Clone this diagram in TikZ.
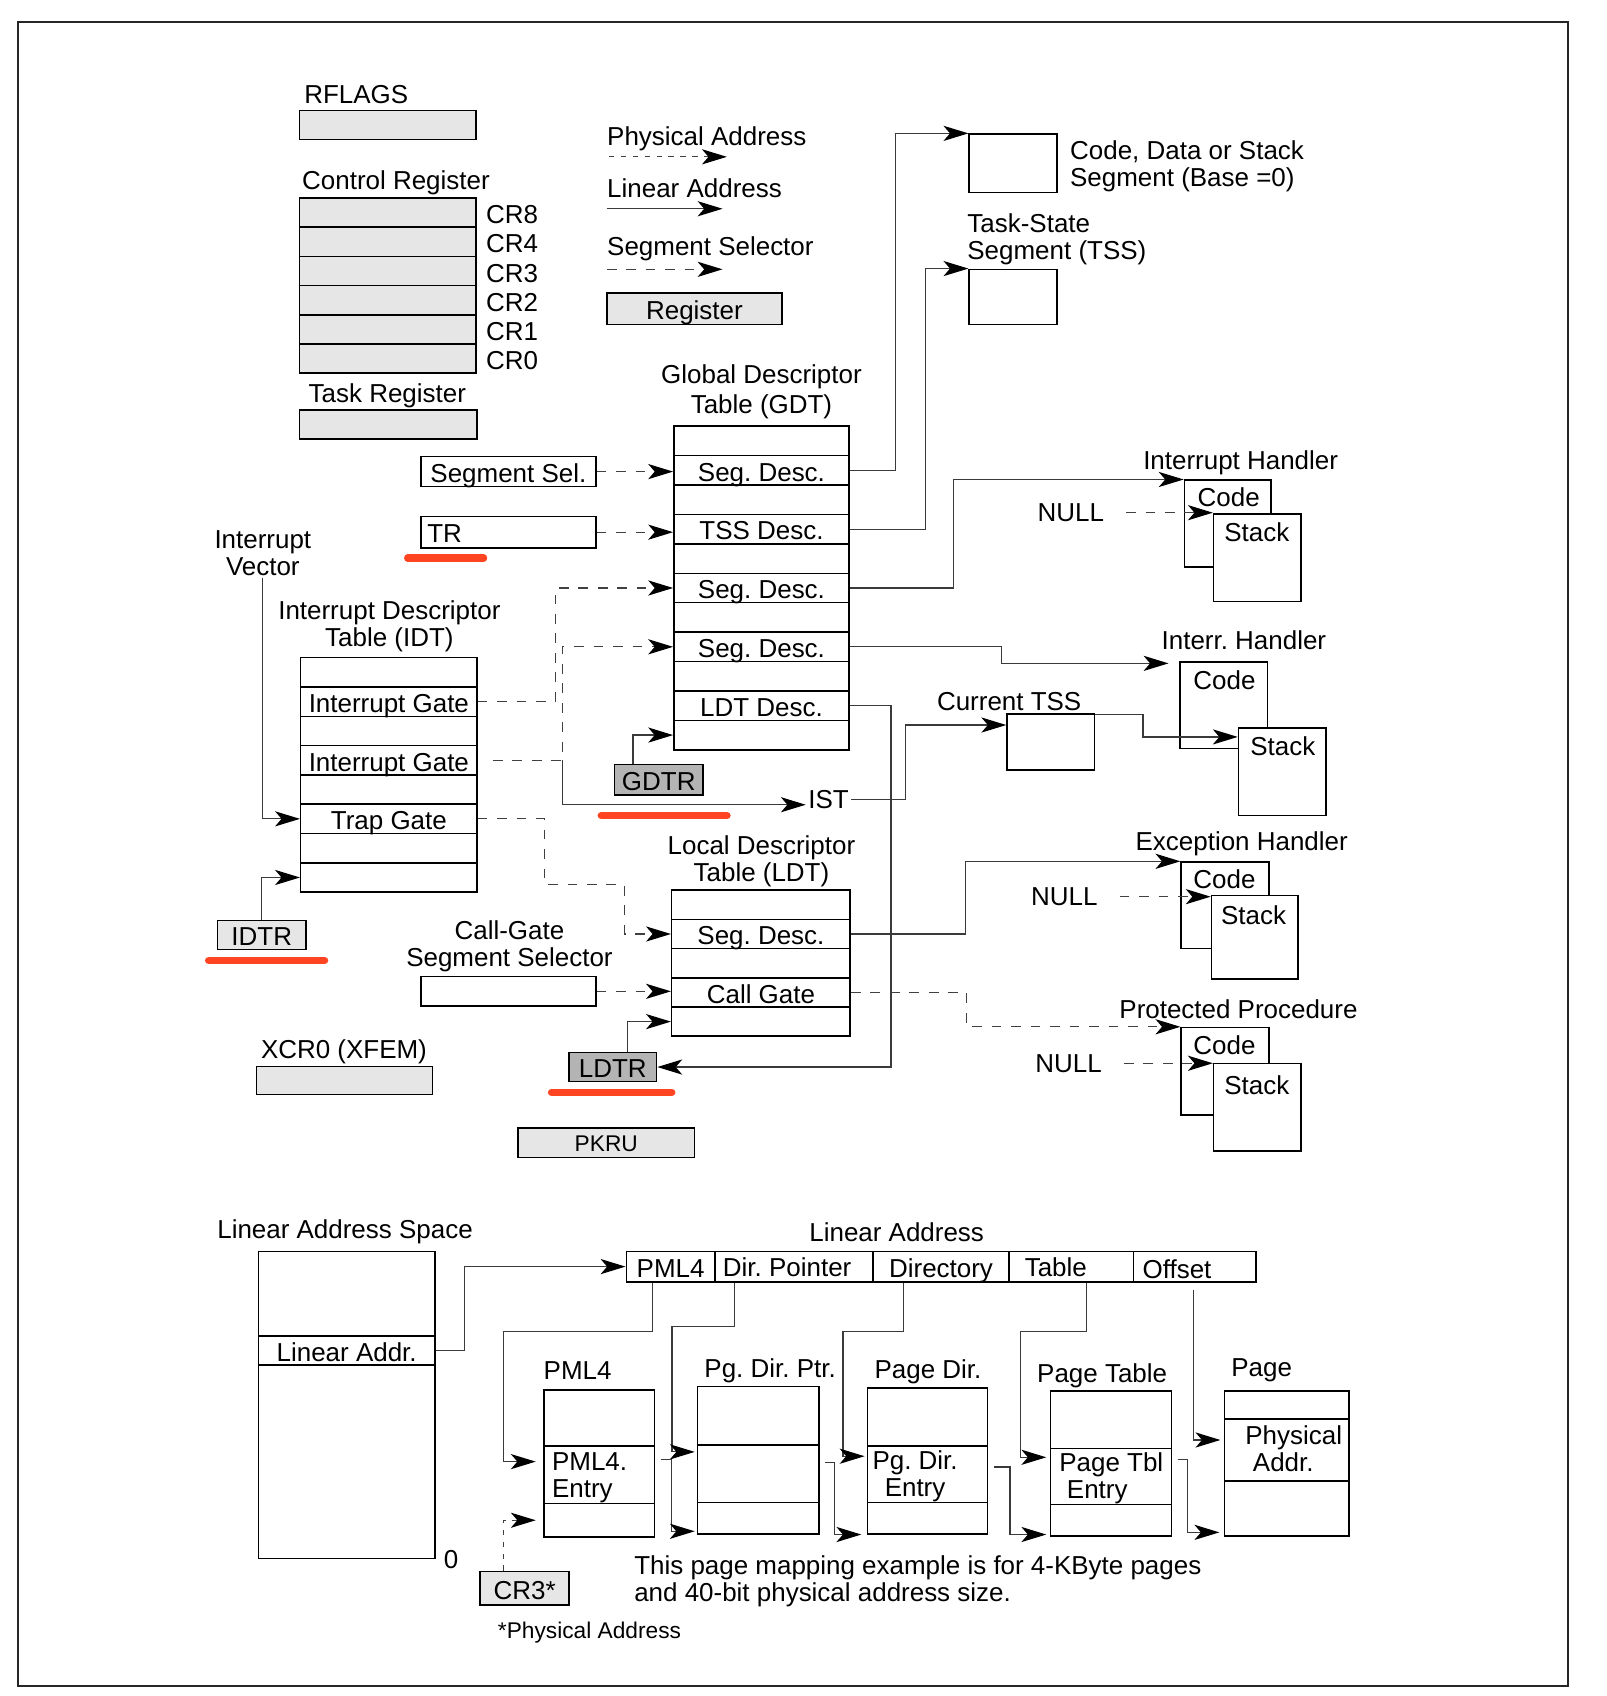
\documentclass[tikz,border=0pt]{standalone}
\usepackage{fontspec}
\setmainfont{Liberation Sans}
\usetikzlibrary{arrows.meta,calc}
\definecolor{regfill}{HTML}{E6E6E6}
\definecolor{dregfill}{HTML}{B4B4B4}
\definecolor{redc}{HTML}{FF4422}
\definecolor{lnc}{HTML}{3A3A3A}
\begin{document}
\frenchspacing
\begin{tikzpicture}[x=0.5pt,y=-0.5pt,
  every node/.style={font=\fontsize{12}{12.5}\selectfont, inner sep=1pt},
  cell/.style={draw, line width=0.7pt, inner sep=0pt, text height=10.5pt, text depth=0.5pt},
  reg/.style={cell, fill=regfill},
  dreg/.style={cell, fill=dregfill},
  small/.style={font=\fontsize{10.5}{12}\selectfont},
  conn/.style={draw=lnc, line width=0.55pt, -{Stealth[length=11.5pt,width=7pt,inset=3pt,black]}},
  dsel/.style={conn, draw=black!75, dash pattern=on 4.5pt off 4.5pt},
  dphys/.style={conn, draw=black!75, dash pattern=on 2.5pt off 3pt},
  redline/.style={draw=redc, line width=3.5pt, line cap=round}
]
\useasboundingbox (0,0) rectangle (1485,1568);
\draw[line width=1pt, draw=black!85] (16.6,20.3) rectangle (1450,1559);

% ---------- registers (top left) ----------
\node[anchor=west] (rflt) at (279,87) {RFLAGS};
\node[reg, minimum width=81.5pt, minimum height=13.5pt] (rflags) at (358.5,115.5) {};
\node[anchor=west] (crt) at (277,169) {Control Register};
\foreach \i/\n in {1/CR8,2/CR4,3/CR3,4/CR2,5/CR1,6/CR0} {
  \node[anchor=west] (crl\i) at (447,{185+27*(\i-0.5)}) {\n};
}
\foreach \i in {1,...,6} {
  \node[reg, minimum width=81.5pt, minimum height=13.5pt] (cr\i) at (358.5,{183+27*(\i-0.5)}) {};
}
\node[anchor=west] (trt) at (283,366) {Task Register};
\node[reg, minimum width=82pt, minimum height=13.5pt] (taskreg) at (359,392.5) {};

% ---------- legend ----------
\node[anchor=west] (lgp) at (559,128) {Physical Address};
\coordinate (lgpa) at (563,145); \coordinate (lgpb) at (672,145);
\draw[dphys] (lgpa) -- (lgpb);
\node[anchor=west] (lgl) at (559,174) {Linear Address};
\coordinate (lgla) at (561,193); \coordinate (lglb) at (668,193);
\draw[conn] (lgla) -- (lglb);
\node[anchor=west] (lgs) at (559,230) {Segment Selector};
\coordinate (lgsa) at (561,249); \coordinate (lgsb) at (668,249);
\draw[dsel] (lgsa) -- (lgsb);
\node[reg, minimum width=81pt, minimum height=14.5pt] (lgreg) at (642,285.5) {Register};

% ---------- segments top right ----------
\node[cell, minimum width=40.5pt, minimum height=27pt] (cds) at (936.5,151) {};
\node[anchor=west, align=left] (cdst) at (987,154) {Code, Data or Stack\\Segment (Base =0)};
\node[anchor=west, align=left] (tsst) at (892,221) {Task-State\\Segment (TSS)};
\node[cell, minimum width=40.5pt, minimum height=25.5pt] (tss) at (936.5,274.5) {};

% ---------- GDT ----------
\node[align=center, font=\fontsize{12}{14}\selectfont] (gdtt) at (704,362.5) {Global Descriptor\\Table (GDT)};
\foreach \i/\lbl in {1/,2/Seg. Desc.,3/,4/TSS Desc.,5/,6/Seg. Desc.,7/,8/Seg. Desc.,9/,10/LDT Desc.,11/} {
  \node[cell, minimum width=81pt, minimum height=13.6pt] (gdt\i) at (704,{394+27.2*(\i-0.5)}) {\lbl};
}
\node[cell, minimum width=81pt, minimum height=14pt] (segsel) at (470,436) {Segment Sel.};
\node[cell, minimum height=14.5pt, text width=75pt, inner xsep=3pt, align=left] (tr) at (470,492) {TR};
\draw[redline] (377,516) -- (447,516);

% ---------- IDT ----------
\node[align=center] (ivec) at (243,511) {Interrupt\\Vector};
\node[align=center] (idtt) at (360,579) {Interrupt Descriptor\\Table (IDT)};
\foreach \i/\lbl in {1/,2/Interrupt Gate,3/,4/Interrupt Gate,5/,6/Trap Gate,7/,8/} {
  \node[cell, minimum width=81.5pt, minimum height=13.55pt] (idt\i) at (359.5,{608+27.1*(\i-0.5)}) {\lbl};
}
\node[reg, minimum width=41pt, minimum height=13.5pt] (idtr) at (242,864.5) {IDTR};
\draw[redline] (193,888) -- (300,888);
\node[dreg, minimum width=41pt, minimum height=14pt] (gdtr) at (609,721) {GDTR};
\draw[redline] (556,754) -- (672,754);
\node (ist) at (766,739) {IST};
\node (ctsst) at (933,649) {Current TSS};
\node[cell, minimum width=40.5pt, minimum height=26pt] (ctss) at (971.5,686) {};

% ---------- LDT ----------
\node[align=center] (ldtt) at (704,796) {Local Descriptor\\Table (LDT)};
\foreach \i/\lbl in {1/,2/Seg. Desc.,3/,4/Call Gate,5/} {
  \node[cell, minimum width=82.5pt, minimum height=13.5pt] (ldt\i) at (703.5,{823+27*(\i-0.5)}) {\lbl};
}
\node[align=center] (cgt) at (471,875) {Call-Gate\\Segment Selector};
\node[cell, minimum width=81pt, minimum height=13.5pt] (cgsel) at (470,916.5) {};
\node[dreg, minimum width=40.5pt, minimum height=13.5pt] (ldtr) at (566.5,986.5) {LDTR};
\draw[redline] (510,1010) -- (621,1010);
\node (xcrt) at (318,972.5) {XCR0 (XFEM)};
\node[reg, minimum width=81.5pt, minimum height=13pt] (xcr0) at (318.5,999) {};
\node[reg, small, text height=9pt, minimum width=81.5pt, minimum height=13.5pt] (pkru) at (560.5,1056.5) {PKRU};

% ---------- handlers ----------
\node (ih1t) at (1147,428) {Interrupt Handler};
\node[cell, minimum width=40pt, minimum height=40pt] (ih1c) at (1135,484) {};
\node (ih1ct) at (1136,460) {Code};
\node[cell, fill=white, minimum width=40.5pt, minimum height=40.5pt] (ih1s) at (1162.5,515.5) {};
\node (ih1st) at (1162,492) {Stack};
\node (null1) at (990,474) {NULL};

\node (ih2t) at (1150,592) {Interr. Handler};
\node[cell, minimum width=40.5pt, minimum height=40pt] (ih2c) at (1131.5,652) {};
\node (ih2ct) at (1132,629) {Code};
\node[cell, fill=white, minimum width=40.5pt, minimum height=40.5pt] (ih2s) at (1185.5,713.5) {};
\node (ih2st) at (1186,690) {Stack};

\node (eht) at (1148,780) {Exception Handler};
\node[cell, minimum width=40.5pt, minimum height=40pt] (ehc) at (1132.5,837) {};
\node (ehct) at (1132,813) {Code};
\node[cell, fill=white, minimum width=40pt, minimum height=38.5pt] (ehs) at (1160,866.5) {};
\node (ehst) at (1159,846) {Stack};
\node (null2) at (984,829) {NULL};

\node (ppt) at (1145,933) {Protected Procedure};
\node[cell, minimum width=40.5pt, minimum height=40.5pt] (ppc) at (1132.5,990.5) {};
\node (ppct) at (1132,966) {Code};
\node[cell, fill=white, minimum width=40.5pt, minimum height=40.5pt] (pps) at (1162.5,1023.5) {};
\node (ppst) at (1162,1003) {Stack};
\node (null3) at (988,983) {NULL};

% ---------- connectors (top) ----------
\draw[conn] (gdt2.east) -- ++(42,0) |- (cds.north west);
\draw[conn] (gdt4.east) -- ++(70,0) |- (tss.north west);
\draw[conn] (gdt6.east) -- ++(96,0) |- (ih1c.north west);
\draw[conn] (gdt8.east) -- ++(140,0) |- ([shift={(-5pt,-1pt)}]ih2c.north west);
\draw[conn] (gdt10.east) -- ++(38,0) |- (ldtr.east);
\draw[dsel] (segsel.east) -- (segsel.east -| gdt2.west);
\draw[dsel] (tr.east) -- (tr.east -| gdt4.west);
\draw[dsel] (idt2.east) -- ++(72,0) |- (gdt6.west);
\coordinate (j) at ($(idt4.east)+(78,0)$);
\draw[dsel] ([xshift=7pt]idt4.east) -- (j) |- (gdt8.west);
\draw[conn] (j) |- ([yshift=-2.5pt]ist.west);
\draw[conn] (ist.east) -- ++(50,0) |- ([yshift=-5.5pt]ctss.north west);
\draw[conn] ([yshift=-0.5pt]ctss.north east) -- ++(44,0) |- ([yshift=-4.5pt]ih2s.north west);
\draw[dsel] (idt6.east) -- ++(62,0) |- ++(74,61) |- (ldt2.west);
\draw[dsel] (cgsel.east) -- (cgsel.east -| ldt4.west);
\draw[conn] (ldt2.east) -- ++(106,0) |- (ehc.north west);
\draw[dsel] (ldt4.east) -- ++(107,0) |- (ppc.north west);
\draw[conn] ([xshift=9pt]gdtr.north west) |- (gdt11.west);
\draw[conn] ([xshift=27.5pt]ldtr.north west) |- (ldt5.west);
\draw[conn] (idtr.north) |- (idt8.west);
\draw[conn] (ivec.south) |- (idt6.west);
\draw[dsel] ([xshift=9pt]null1.east) -- (null1.east -| ih1s.west);
\draw[dsel] ([xshift=9pt]null2.east) -- (null2.east -| ehs.west);
\draw[dsel] ([xshift=9pt]null3.east) -- (null3.east -| pps.west);

% ---------- paging (bottom) ----------
\node (last) at (319,1139) {Linear Address Space};
\node[cell, minimum width=81.5pt, minimum height=39pt] (las1) at (320.5,1196) {};
\node[cell, minimum width=81.5pt, minimum height=13.5pt] (las2) at (320.5,1248.5) {Linear Addr.};
\node[cell, minimum width=81.5pt, minimum height=89.5pt] (las3) at (320.5,1351.5) {};
\node (zero) at (417,1442) {0};

\node (lat) at (829,1139) {Linear Address};
\node[cell, minimum width=41pt, minimum height=14pt] (f1) at (620,1171) {PML4};
\node[cell, minimum width=73pt, minimum height=14pt] (f2) at (734,1171) {};
\node[anchor=west] (f2t) at (666,1172) {Dir. Pointer};
\node[cell, minimum width=63pt, minimum height=14pt] (f3) at (870,1171) {Directory};
\node[cell, minimum width=57.5pt, minimum height=14pt] (f4) at (990.5,1171) {};
\node[anchor=west] (f4t) at (945,1172) {Table};
\node[cell, minimum width=56.5pt, minimum height=14pt] (f5) at (1104.5,1171) {};
\node[anchor=west] (f5t) at (1054,1173) {Offset};

\node (pml4t) at (534,1267) {PML4};
\node[cell, minimum width=51pt, minimum height=26pt] (pml4r1) at (554,1311) {};
\node[cell, minimum width=51pt, minimum height=26.5pt] (pml4r2) at (554,1363.5) {};
\node[cell, minimum width=51pt, minimum height=15.5pt] (pml4r3) at (554,1405.5) {};
\node[anchor=west, align=left] (pml4e) at (508,1366) {PML4.\\Entry};

\node (pdpt) at (712,1267) {Pg. Dir. Ptr.};
\node[cell, minimum width=56pt, minimum height=27pt] (pdpr1) at (701,1309) {};
\node[cell, minimum width=56pt, minimum height=26.5pt] (pdpr2) at (701,1362.5) {};
\node[cell, minimum width=56pt, minimum height=14.5pt] (pdpr3) at (701,1403.5) {};

\node (pdt) at (858,1268) {Page Dir.};
\node[cell, minimum width=55.5pt, minimum height=27pt] (pdr1) at (857.5,1310) {};
\node[cell, minimum width=55.5pt, minimum height=26pt] (pdr2) at (857.5,1363) {};
\node[cell, minimum width=55.5pt, minimum height=14.5pt] (pdr3) at (857.5,1403.5) {};
\node[align=center] (pde) at (846,1365) {Pg. Dir.\\Entry};

\node (ptt) at (1019,1272) {Page Table};
\node[cell, minimum width=56pt, minimum height=26.5pt] (ptr1) at (1027,1312.5) {};
\node[cell, minimum width=56pt, minimum height=26pt] (ptr2) at (1027,1365) {};
\node[cell, minimum width=56pt, minimum height=14.5pt] (ptr3) at (1027,1405.5) {};
\node[anchor=west, align=left] (pte) at (977,1367) {Page Tbl\\\hspace*{3.5pt}Entry};

\node[anchor=west] (pgt) at (1136,1267) {Page};
\node[cell, minimum width=57.5pt, minimum height=13pt] (pgr1) at (1189.5,1299) {};
\node[cell, minimum width=57.5pt, minimum height=28.5pt] (pgr2) at (1189.5,1340.5) {};
\node[cell, minimum width=57.5pt, minimum height=25.5pt] (pgr3) at (1189.5,1394.5) {};
\node[anchor=west, align=left] (pgpa) at (1149,1339) {Physical\\\hspace*{3.5pt}Addr.};

\node[reg, minimum width=41pt, minimum height=15.5pt] (cr3) at (485,1468.5) {CR3*};
\node[anchor=west, small] (physnote) at (458,1509) {*Physical Address};
\node[anchor=west, align=left] (note) at (584,1462) {This page mapping example is for 4-KByte pages\\and 40-bit physical address size.};

\draw[conn] (las2.east) -- ++(27,0) |- (f1.west);
\draw[conn] ([xshift=12.5pt]f1.south west) |- ++(-138,45) |- ([shift={(-3.5pt,-7.5pt)}]pml4r2.north west);
\draw[conn] ([xshift=9.5pt]f2.south west) |- ++(-58,41) |- ([shift={(-1pt,-3.5pt)}]pdpr2.north west);
\draw[conn] ([xshift=14.5pt]f3.south west) |- ++(-56,45) |- ([shift={(-1pt,-5pt)}]pdr2.north west);
\draw[conn] ([xshift=36pt]f4.south west) |- ++(-61,45) |- ([shift={(-1.5pt,-4.5pt)}]ptr2.north west);
\draw[conn] ([shift={(28pt,-3.5pt)}]f5.south west) |- ([shift={(-1.5pt,-10pt)}]pgr2.north west);
\draw[conn] ([shift={(2.5pt,-6.5pt)}]pml4r2.north east) -- ++(10,0) |- ([shift={(-1pt,1.5pt)}]pdpr3.south west);
\draw[conn] ([shift={(2.5pt,-8.5pt)}]pdpr2.north east) -- ++(9,0) |- ([xshift=-2.5pt]pdr3.south west);
\draw[conn] ([shift={(2.5pt,-10pt)}]pdr2.north east) -- ++(15,0) |- ([shift={(-1.5pt,1pt)}]ptr3.south west);
\draw[conn] ([shift={(2.5pt,-5.5pt)}]ptr2.north east) -- ++(9,0) |- ([shift={(-2pt,2pt)}]pgr3.south west);
\draw[dphys] ([xshift=11pt]cr3.north west) |- ([xshift=-3.5pt]pml4r3.west);
\end{tikzpicture}
\end{document}
